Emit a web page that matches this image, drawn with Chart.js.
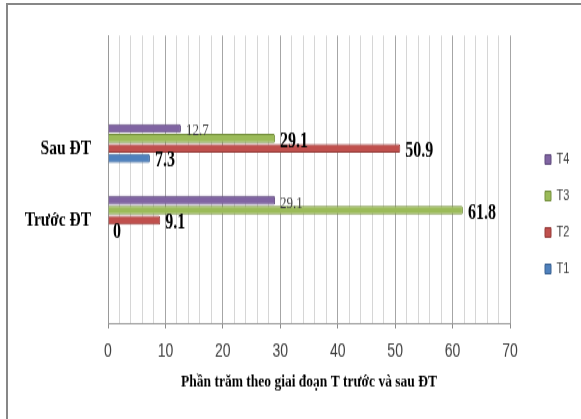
<!DOCTYPE html>
<html>
<head>
<meta charset="utf-8">
<script src="https://cdn.jsdelivr.net/npm/chart.js@4.4.1/dist/chart.umd.min.js"></script>
<style>
    html, body { margin: 0; padding: 0; background: #fff; overflow: hidden; }
    #frame { position: absolute; left: 6px; top: 3px; width: 620px; height: 440px; border-left: 2px solid #878787; border-top: 2px solid #878787; }
    /* the original picture is stretched vertically, so the canvas is too */
    #wrap { position: absolute; left: 0; top: 0; width: 581px; height: 310px; transform: scaleY(1.3516); transform-origin: 0 0; }
</style>
</head>
<body>
<div id="frame"></div>
<div id="wrap"><canvas id="myChart"></canvas></div>
<script>
    // ------------------ data ------------------//
    var categories = ['Trước ĐT', 'Sau ĐT'];
    var seriesNames = ['T1', 'T2', 'T3', 'T4'];
    var t1Values = [0, 7.3];
    var t2Values = [9.1, 50.9];
    var t3Values = [61.8, 29.1];
    var t4Values = [29.1, 12.7];
    var xTicks = [0, 10, 20, 30, 40, 50, 60, 70];
    var axisTitle = 'Phần trăm theo giai đoạn T trước và sau ĐT';

    var fills = ['#4f81bd', '#c0504d', '#9bbb59', '#8064a2'];
    var edges = ['#3a6293', '#943b39', '#76913f', '#5f4a7c'];

    // empty slots above and below, like the original plot area
    var labels = [''].concat(categories, ['']);
    function pad(values) { return [null].concat(values, [null]); }

    var seriesValues = [t1Values, t2Values, t3Values, t4Values];
    var datasets = seriesNames.map(function (name, i) {
        return {
            label: name,
            data: pad(seriesValues[i]),
            backgroundColor: fills[i],
            borderColor: edges[i],
            borderWidth: 1,
            borderRadius: 1.5,
            barPercentage: 0.9,
            categoryPercentage: 0.556
        };
    }).reverse(); // T4 on top, as in the original

    // value written at the end of every bar
    var valueLabels = {
        id: 'valueLabels',
        afterDatasetsDraw: function (chart) {
            var ctx = chart.ctx;
            chart.data.datasets.forEach(function (ds, i) {
                chart.getDatasetMeta(i).data.forEach(function (bar, j) {
                    var v = ds.data[j];
                    if (v === null) return;
                    ctx.save();
                    if (ds.label === 'T4') {
                        ctx.font = '13px "Liberation Serif"';
                        ctx.fillStyle = '#404040';
                    } else {
                        ctx.font = 'bold 16px "Liberation Serif"';
                        ctx.fillStyle = '#000';
                    }
                    ctx.textBaseline = 'middle';
                    ctx.fillText(String(v), bar.x + 5, bar.y + 2);
                    ctx.restore();
                });
            });
        }
    };

    // keep the legend a bit away from the plot, as in the original
    var legendX = 529;
    var legendShift = {
        id: 'legendShift',
        afterLayout: function (chart) {
            var lg = chart.legend;
            var d = legendX - lg.left;
            lg.left += d;
            lg.right += d;
        }
    };

    new Chart('myChart', {
        type: 'bar',
        data: { labels: labels, datasets: datasets },
        plugins: [valueLabels, legendShift],
        options: {
            indexAxis: 'y',
            responsive: true,
            maintainAspectRatio: false,
            animation: false,
            events: [],
            layout: { padding: { left: 8, top: 26, right: 12, bottom: 19 } },
            plugins: {
                tooltip: { enabled: false },
                legend: {
                    position: 'right',
                    labels: {
                        boxWidth: 6,
                        boxHeight: 7,
                        padding: 16,
                        color: '#404040',
                        font: { family: 'Liberation Sans', size: 11 }
                    }
                }
            },
            scales: {
                x: {
                    min: xTicks[0],
                    max: xTicks[xTicks.length - 1],
                    ticks: {
                        stepSize: 2,
                        autoSkip: false,
                        maxRotation: 0,
                        padding: 9,
                        color: '#404040',
                        font: { family: 'Liberation Sans', size: 14 },
                        callback: function (v) { return xTicks.indexOf(v) >= 0 ? v : ''; }
                    },
                    grid: {
                        color: function (c) { return xTicks.indexOf(c.tick.value) >= 0 ? '#a6a6a6' : '#d6d6d6'; },
                        tickColor: function (c) { return xTicks.indexOf(c.tick.value) >= 0 ? '#8c8c8c' : 'rgba(0,0,0,0)'; },
                        tickLength: 4
                    },
                    border: { color: '#9a9a9a' },
                    title: {
                        display: true,
                        text: axisTitle,
                        color: '#000',
                        font: { family: 'Liberation Serif', weight: 'bold', size: 13.5 },
                        padding: { top: -3, bottom: 0 }
                    },
                    afterFit: function (s) { s.paddingRight = 71; }
                },
                y: {
                    reverse: true,
                    grid: { display: false, drawTicks: false },
                    border: { color: '#9a9a9a' },
                    ticks: {
                        padding: 17,
                        labelOffset: 4,
                        color: '#000',
                        font: { family: 'Liberation Serif', weight: 'bold', size: 15.5 }
                    },
                    afterFit: function (s) { s.width = 100; }
                }
            }
        }
    });
</script>
</body>
</html>
